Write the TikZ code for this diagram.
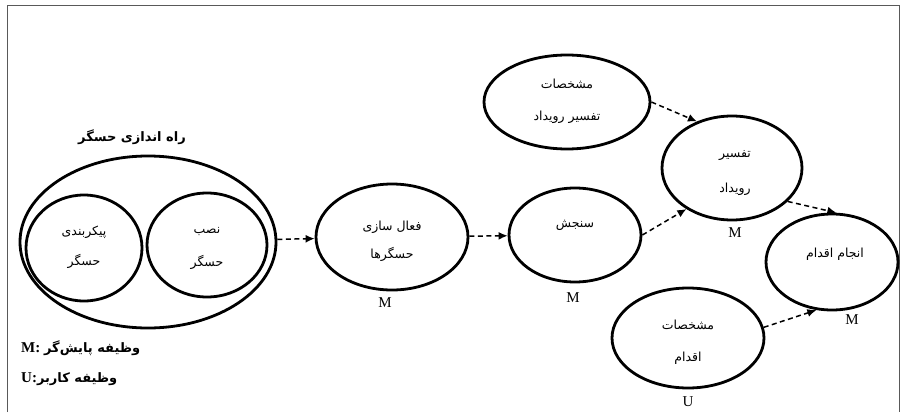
\documentclass[tikz,border=0pt]{standalone}
\usepackage{fontspec}
\setmainfont{Liberation Serif}
\newfontfamily\fa[Script=Arabic]{DejaVu Sans}
\TeXXeTstate=1
\usetikzlibrary{shapes.geometric,arrows.meta}

\begin{document}
\begin{tikzpicture}[x=1pt,y=-1pt,
  oval/.style={draw, ellipse, line width=2.8pt, inner sep=0pt},
  fatext/.style={font=\fa\fontsize{12.5}{14}\selectfont, inner sep=0pt},
  fahead/.style={font=\fa\bfseries\fontsize{13}{15}\selectfont, inner sep=0pt},
  role/.style={font=\fontsize{15}{17}\selectfont, inner sep=0pt},
  flow/.style={dash pattern=on 5pt off 3.5pt, line width=1.5pt,
    -{Latex[length=9pt,width=8pt]}}]

\useasboundingbox (0,0) rectangle (901,412);
% outer frame
\draw[gray!70!black, line width=1pt] (7,412) -- (7,6) -- (899,6) -- (899,412);

% sensor setup group
\node[oval, minimum width=256pt, minimum height=172pt] (setup) at (148,242) {};
\node[oval, minimum width=116pt, minimum height=106pt] (config) at (84,248) {};
\node[oval, minimum width=120pt, minimum height=104pt] (install) at (207,245) {};
\node[fahead] (tSetup) at (132,137) {\beginR راه اندازی حسگر\endR};
\node[fatext] (tConfigA) at (84,232) {\beginR پیکربندی\endR};
\node[fatext] (tConfigB) at (84,261) {\beginR حسگر\endR};
\node[fatext] (tInstallA) at (207,232) {\beginR نصب\endR};
\node[fatext] (tInstallB) at (207,262) {\beginR حسگر\endR};

% process states
\node[oval, minimum width=152pt, minimum height=106pt] (act) at (392,237) {};
\node[oval, minimum width=132pt, minimum height=94pt] (sense) at (575,235) {};
\node[oval, minimum width=166pt, minimum height=94pt] (spec) at (567,102) {};
\node[oval, minimum width=140pt, minimum height=104pt] (interp) at (732,168) {};
\node[oval, minimum width=132pt, minimum height=96pt] (action) at (832,262) {};
\node[oval, minimum width=152pt, minimum height=100pt] (aspec) at (688,338) {};

\node[fatext] (tActA) at (392,227) {\beginR فعال سازی\endR};
\node[fatext] (tActB) at (392,254) {\beginR حسگرها\endR};
\node[fatext] (tSense) at (575,225) {\beginR سنجش\endR};
\node[fatext] (tSpecA) at (567,84) {\beginR مشخصات\endR};
\node[fatext] (tSpecB) at (567,117) {\beginR تفسیر رویداد\endR};
\node[fatext] (tInterpA) at (735,156) {\beginR تفسیر\endR};
\node[fatext] (tInterpB) at (735,189) {\beginR رویداد\endR};
\node[fatext] (tAction) at (835,254) {\beginR انجام اقدام\endR};
\node[fatext] (tAspecA) at (688,325) {\beginR مشخصات\endR};
\node[fatext] (tAspecB) at (688,358) {\beginR اقدام\endR};

% role labels
\node[role] (rAct) at (385,303) {M};
\node[role] (rSense) at (573,298) {M};
\node[role] (rInterp) at (735,233) {M};
\node[role] (rAction) at (852,320) {M};
\node[role] (rAspec) at (688,402) {U};

% connectors
\draw[flow] (setup) -- (act);
\draw[flow] (act) -- (sense);
\draw[flow] (sense.east) -- (interp.222);
\draw[flow] (spec.east) -- (interp.127);
\draw[flow] (interp.-31) -- (action.85);
\draw[flow] (aspec.8) -- (action.252);

% legend
\node[anchor=west, inner sep=0pt] (legM) at (21,348)
  {\fontsize{15}{17}\selectfont\textbf{M:} {\fa\bfseries\fontsize{13}{15}\selectfont\beginR وظیفه پایش‌گر\endR}};
\node[anchor=west, inner sep=0pt] (legU) at (21,379)
  {\fontsize{15}{17}\selectfont\textbf{U:}{\fa\bfseries\fontsize{13}{15}\selectfont\beginR وظیفه کاربر\endR}};
\end{tikzpicture}
\end{document}
